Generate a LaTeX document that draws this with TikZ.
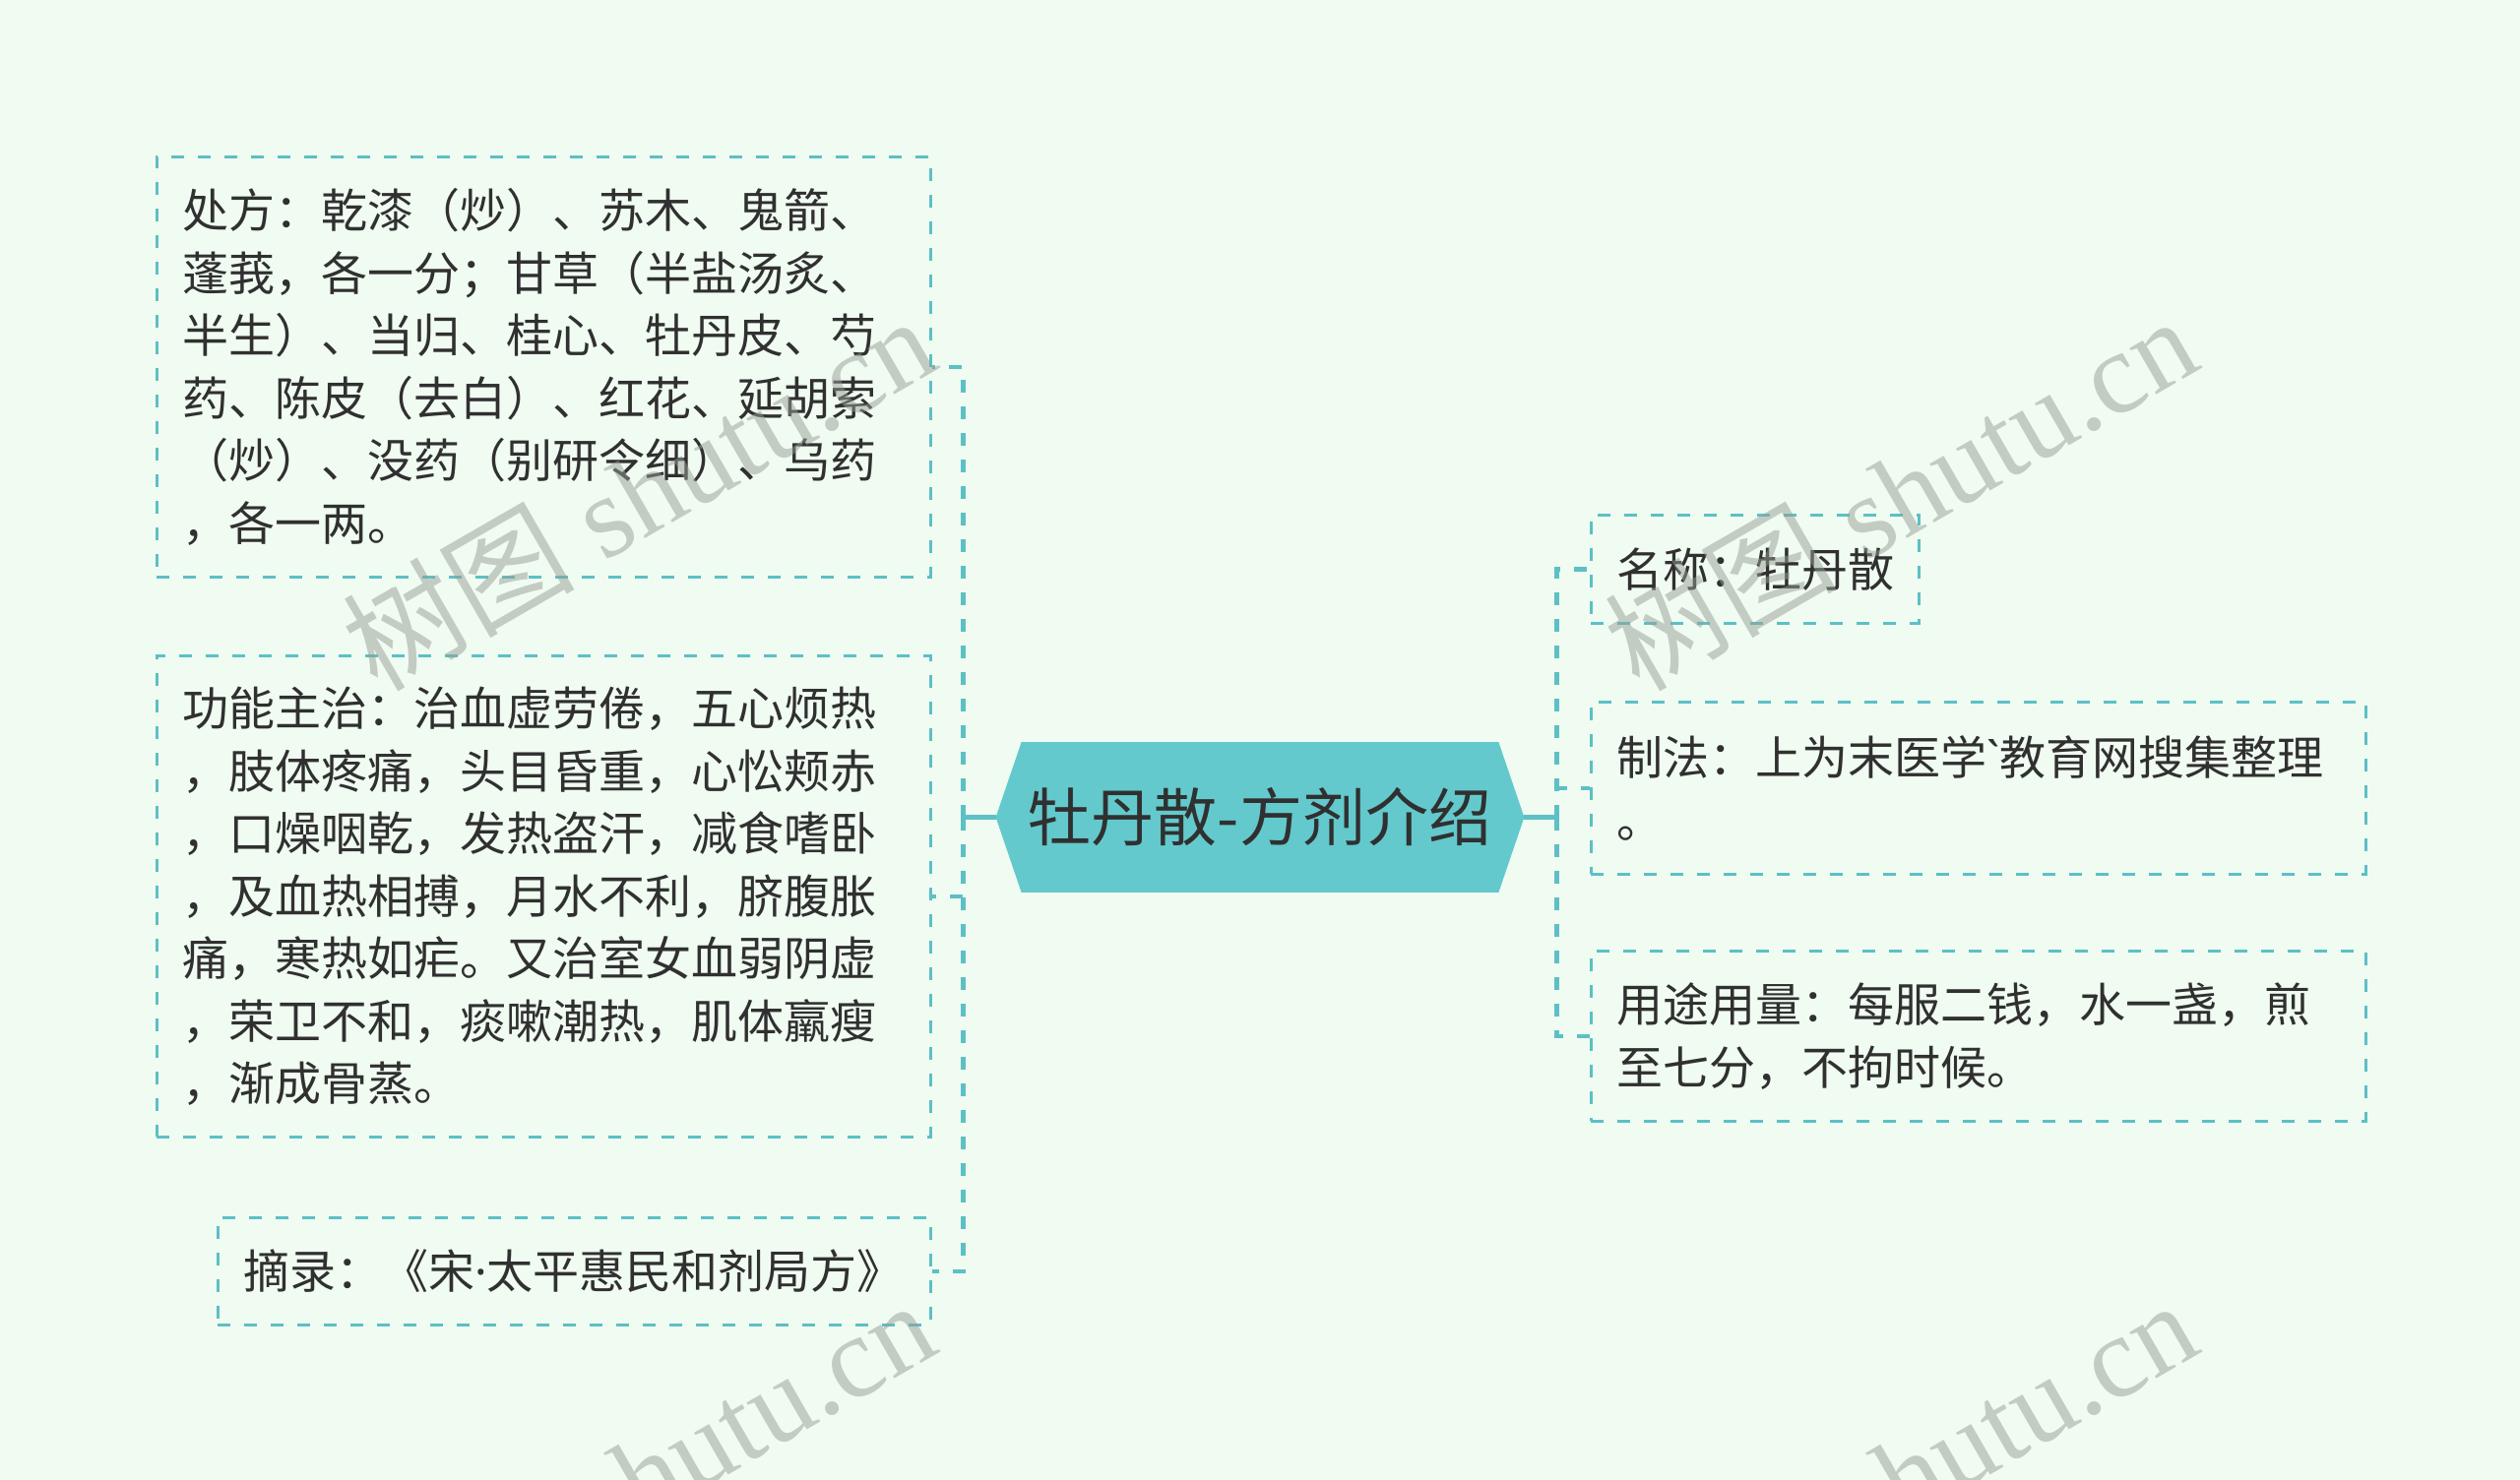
\documentclass[tikz,border=0pt]{standalone}
\usepackage{fontspec}
\newfontfamily\cjk{Noto Sans CJK SC}[Ligatures=TeXOff]
\newfontfamily\latinsans{Noto Sans}
\newfontfamily\wmlat{Liberation Serif}
\usetikzlibrary{calc,backgrounds}
\definecolor{bgc}{RGB}{240,251,241}
\definecolor{teal1}{RGB}{92,192,198}
\definecolor{hexc}{RGB}{99,201,204}
\definecolor{txt}{RGB}{48,48,48}
\definecolor{wmc}{RGB}{150,158,150}
\begin{document}
\begin{tikzpicture}[x=0.5pt,y=-0.5pt,
  box/.style={draw=teal1, line width=1.4pt, dash pattern=on 6.5pt off 7pt,
    anchor=north west, align=left, inner xsep=13pt, inner ysep=0pt,
    font=\cjk\fontsize{23.5pt}{31.75pt}\selectfont, text=txt},
  conn/.style={draw=teal1, line width=2.3pt, dash pattern=on 6.5pt off 7pt},
  connsolid/.style={draw=teal1, line width=2.3pt},
  hexnode/.style={inner sep=0pt, minimum width=242pt, minimum height=76pt,
    font=\cjk\fontsize{32pt}{32pt}\selectfont, text=txt},
  wm/.style={font=\wmlat\fontsize{59pt}{59pt}\selectfont, text=wmc, text opacity=0.5, inner sep=0pt}]
\useasboundingbox (0,0) rectangle (2560,1504);
\begin{scope}[on background layer]
\fill[bgc] (0,0) rectangle (2560,1504);
\end{scope}

% central topic
\node[hexnode] (c) at (1280,830.5) {牡丹散-方剂介绍};
\begin{scope}[on background layer]
\fill[hexc] ([xshift=-13pt]c.west) -- (c.north west) -- (c.north east)
  -- ([xshift=13pt]c.east) -- (c.south east) -- (c.south west) -- cycle;
\end{scope}
\coordinate (cL) at ([xshift=-13pt]c.west);
\coordinate (cR) at ([xshift=13pt]c.east);
\coordinate (sL) at ([xshift=-16.5pt]cL);
\coordinate (sR) at ([xshift=16.5pt]cR);

% left boxes
\node[box, text width=367pt, minimum height=213.5pt] (b1) at (158,158)
  {处方：乾漆（炒）、苏木、鬼箭、\\蓬莪，各一分；甘草（半盐汤炙、\\半生）、当归、桂心、牡丹皮、芍\\药、陈皮（去白）、红花、延胡索\\（炒）、没药（别研令细）、乌药\\，各一两。};
\node[box, text width=367pt, minimum height=244.5pt] (b2) at (158,665)
  {功能主治：治血虚劳倦，五心烦热\\，肢体疼痛，头目昏重，心忪颊赤\\，口燥咽乾，发热盗汗，减食嗜卧\\，及血热相搏，月水不利，脐腹胀\\痛，寒热如疟。又治室女血弱阴虚\\，荣卫不和，痰嗽潮热，肌体羸瘦\\，渐成骨蒸。};
\node[box, text width=336pt, minimum height=54.5pt] (b3) at (220,1236)
  {摘录：《宋{\latinsans ·}太平惠民和剂局方》};

% right boxes
\node[box, text width=140.5pt, minimum height=55pt] (r1) at (1615,522)
  {名称：牡丹散};
\node[box, text width=367.5pt, minimum height=87.5pt] (r2) at (1615,712)
  {制法：上为末医学{\latinsans `}教育网搜集整理\\。};
\node[box, text width=367.5pt, minimum height=86.5pt] (r3) at (1615,965)
  {用途用量：每服二钱，水一盏，煎\\至七分，不拘时候。};

% connectors
\draw[connsolid] (cL) -- (sL);
\draw[conn] (sL) |- (b1.east);
\draw[conn] (sL) |- (b2.east);
\draw[conn] (sL) |- (b3.east);
\draw[connsolid] (cR) -- (sR);
\draw[conn] (sR) |- (r1.west);
\draw[conn] (sR) |- (r2.west);
\draw[conn] (sR) |- (r3.west);

% watermarks
\node[wm, rotate=30] (w1) at (648,500) {{\cjk 树图} shutu.cn};
\node[wm, rotate=30] (w2) at (1930,500) {{\cjk 树图} shutu.cn};
\node[wm, rotate=30] (w3) at (648,1500) {{\cjk 树图} shutu.cn};
\node[wm, rotate=30] (w4) at (1930,1500) {{\cjk 树图} shutu.cn};
\end{tikzpicture}
\end{document}
